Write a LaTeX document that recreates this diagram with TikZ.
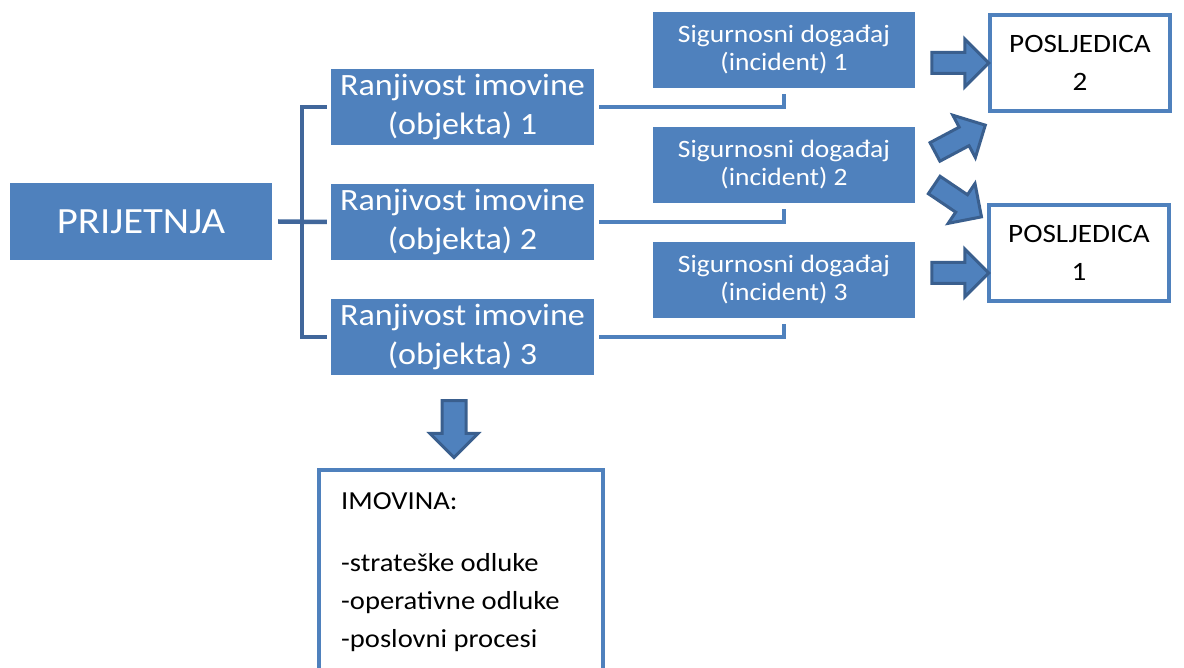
\documentclass[tikz,border=0pt]{standalone}
\usepackage{fontspec}
\setmainfont{Carlito}[FakeStretch=1.1]
\usetikzlibrary{shapes.arrows}
\definecolor{plava}{HTML}{4F81BD}
\definecolor{tamnoplava}{HTML}{3A5F8E}
\definecolor{crta}{HTML}{41679B}

\begin{document}
\begin{tikzpicture}[x=1pt, y=-1pt,
	blok/.style={rectangle, fill=plava, text=white, align=center, inner sep=0pt},
	ranj/.style={blok, minimum width=263pt, minimum height=76pt, font=\fontsize{31}{39}\selectfont},
	sig/.style={blok, minimum width=262pt, minimum height=76pt, font=\fontsize{25}{28}\selectfont},
	posl/.style={rectangle, draw=plava, line width=4pt, fill=white, align=center, inner sep=0pt, font=\fontsize{26.5}{38}\selectfont, minimum width=180pt, minimum height=96pt},
	strelica/.style={single arrow, fill=plava, draw=tamnoplava, line width=3pt, minimum height=57pt, minimum width=45pt, single arrow head extend=13.5pt, inner xsep=0pt, inner ysep=9pt},
	zagrada/.style={draw=crta, line width=4.5pt},
	veza/.style={draw=plava, line width=4.5pt}]
	\useasboundingbox (0,0) rectangle (1184,668);
	
	\node[blok, minimum width=262pt, minimum height=77pt, font=\fontsize{37}{44}\selectfont] (prijetnja) at (141,221.5) {PRIJETNJA};
	\node[ranj] (ranj1) at (462.5,107) {Ranjivost imovine\\(objekta) 1};
	\node[ranj] (ranj2) at (462.5,222) {Ranjivost imovine\\(objekta) 2};
	\node[ranj] (ranj3) at (462.5,337) {Ranjivost imovine\\(objekta) 3};
	\node[sig] (sig1) at (784,50) {Sigurnosni događaj\\(incident) 1};
	\node[sig] (sig2) at (784,165) {Sigurnosni događaj\\(incident) 2};
	\node[sig] (sig3) at (784,280) {Sigurnosni događaj\\(incident) 3};
	\node[posl] (posl2) at (1080,63) {POSLJEDICA\\2};
	\node[posl] (posl1) at (1079,253) {POSLJEDICA\\1};
	\node[rectangle, draw=plava, line width=4pt, minimum width=284pt, minimum height=260pt] (imovina) at (461,600) {};
	\node[anchor=north west, align=left, inner sep=0pt, font=\fontsize{26}{38}\selectfont] (popis) at (341,492) {IMOVINA:\\[24pt]-strateške odluke\\-operativne odluke\\-poslovni procesi};
	
	% block arrows
	\node[strelica] (s1) at (955,63) {};
	\node[strelica, rotate=28] (s2a) at (955.5,141) {};
	\node[strelica, rotate=-34] (s2b) at (953.5,198) {};
	\node[strelica] (s3) at (955,273) {};
	\node[strelica, rotate=-90, inner ysep=10.5pt, minimum width=45pt, single arrow head extend=12pt] (s4) at (454,423) {};
	
	\draw[zagrada] ([xshift=6pt]prijetnja.east) -- ([xshift=-4pt]ranj2.west);
	\draw[zagrada] ([xshift=-4pt]ranj1.west) -- ++(-25,0) |- ([xshift=-4pt]ranj3.west);
	
	\draw[veza] ([xshift=5pt]ranj1.east) -| ([yshift=-6pt]sig1.south);
	\draw[veza] ([xshift=5pt]ranj2.east) -| ([yshift=-6pt]sig2.south);
	\draw[veza] ([xshift=5pt]ranj3.east) -| ([yshift=-6pt]sig3.south);
\end{tikzpicture}
\end{document}
